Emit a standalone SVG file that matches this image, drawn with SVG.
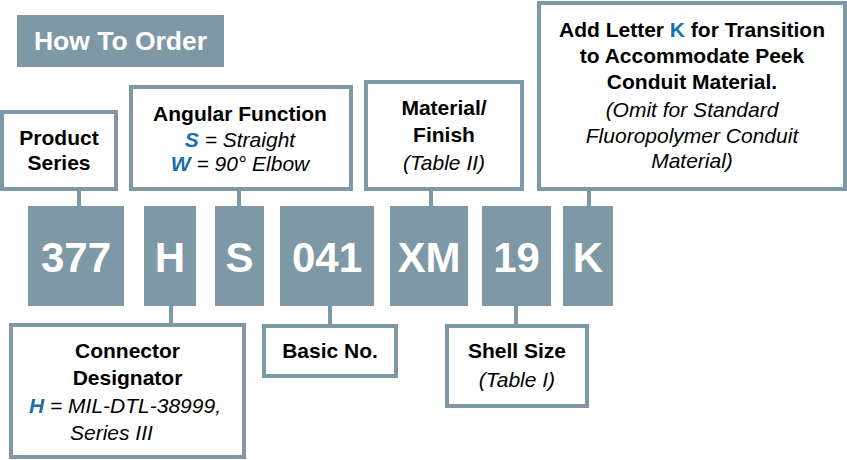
<svg xmlns="http://www.w3.org/2000/svg" width="847" height="460" viewBox="0 0 847 460">
<style>
.box{fill:#fff;stroke:#7f98a5;stroke-width:4}
.code{fill:#7f98a5}
.ct{font-family:"Liberation Sans",Arial,sans-serif;font-weight:bold;font-size:42px;fill:#fff;text-anchor:middle}
.lb{font-family:"Liberation Sans",Arial,sans-serif;font-weight:bold;font-size:21px;fill:#000;text-anchor:middle}
.it{font-family:"Liberation Sans",Arial,sans-serif;font-style:italic;font-size:21px;fill:#000;text-anchor:middle}
.bl{fill:#1a6fae;font-weight:bold}
.conn line{stroke:#7f98a5;stroke-width:4}
</style>
<g id="title">
<rect x="17" y="15" width="207" height="52" fill="#7f98a5"/>
<text x="120.5" y="50" font-family="Liberation Sans,Arial,sans-serif" font-weight="bold" font-size="26.5" fill="#fff" text-anchor="middle">How To Order</text>
</g>
<g class="conn" id="connectors">
<line x1="79" y1="189" x2="79" y2="207"/>
<line x1="239" y1="189" x2="239" y2="207"/>
<line x1="431" y1="189" x2="431" y2="207"/>
<line x1="589" y1="189" x2="589" y2="207"/>
<line x1="171" y1="305" x2="171" y2="326"/>
<line x1="330" y1="305" x2="330" y2="327"/>
<line x1="516" y1="305" x2="516" y2="327"/>
</g>
<g id="code-377"><rect class="code" x="28" y="206" width="96" height="100"/><text class="ct" x="76" y="272">377</text></g>
<g id="code-H"><rect class="code" x="144" y="206" width="52" height="100"/><text class="ct" x="170" y="272">H</text></g>
<g id="code-S"><rect class="code" x="215" y="206" width="49" height="100"/><text class="ct" x="239.5" y="272">S</text></g>
<g id="code-041"><rect class="code" x="280" y="206" width="94" height="100"/><text class="ct" x="327" y="272">041</text></g>
<g id="code-XM"><rect class="code" x="390" y="206" width="78" height="100"/><text class="ct" x="429" y="272">XM</text></g>
<g id="code-19"><rect class="code" x="482" y="206" width="69" height="100"/><text class="ct" x="516.5" y="272">19</text></g>
<g id="code-K"><rect class="code" x="563" y="206" width="50" height="100"/><text class="ct" x="588" y="272">K</text></g>
<g id="product-series">
<rect class="box" x="2" y="112" width="114" height="77"/>
<text class="lb" x="59" y="145">Product</text>
<text class="lb" x="59" y="170">Series</text>
</g>
<g id="angular-function">
<rect class="box" x="131" y="87" width="220" height="102"/>
<text class="lb" x="240" y="121">Angular Function</text>
<text class="it" x="240" y="147"><tspan class="bl">S</tspan> = Straight</text>
<text class="it" x="240" y="171"><tspan class="bl">W</tspan> = 90° Elbow</text>
</g>
<g id="material-finish">
<rect class="box" x="366" y="82" width="156" height="107"/>
<text class="lb" x="444" y="115">Material/</text>
<text class="lb" x="444" y="142">Finish</text>
<text class="it" x="444" y="170">(Table II)</text>
</g>
<g id="transition">
<rect class="box" x="539" y="3" width="306" height="186"/>
<text class="lb" x="692" y="37">Add Letter <tspan fill="#1a6fae">K</tspan> for Transition</text>
<text class="lb" x="692" y="63">to Accommodate Peek</text>
<text class="lb" x="692" y="89">Conduit Material.</text>
<text class="it" x="692" y="117">(Omit for Standard</text>
<text class="it" x="692" y="143">Fluoropolymer Conduit</text>
<text class="it" x="692" y="168">Material)</text>
</g>
<g id="connector-designator">
<rect class="box" x="11" y="325" width="233" height="132"/>
<text class="lb" x="127.5" y="358">Connector</text>
<text class="lb" x="127.5" y="385">Designator</text>
<text class="it" x="125" y="413"><tspan class="bl">H</tspan> = MIL-DTL-38999,</text>
<text class="it" x="70" y="440" style="text-anchor:start">Series III</text>
</g>
<g id="basic-no">
<rect class="box" x="264" y="326" width="132" height="50"/>
<text class="lb" x="330" y="358">Basic No.</text>
</g>
<g id="shell-size">
<rect class="box" x="447" y="326" width="140" height="80"/>
<text class="lb" x="517" y="358">Shell Size</text>
<text class="it" x="517" y="387">(Table I)</text>
</g>
</svg>
